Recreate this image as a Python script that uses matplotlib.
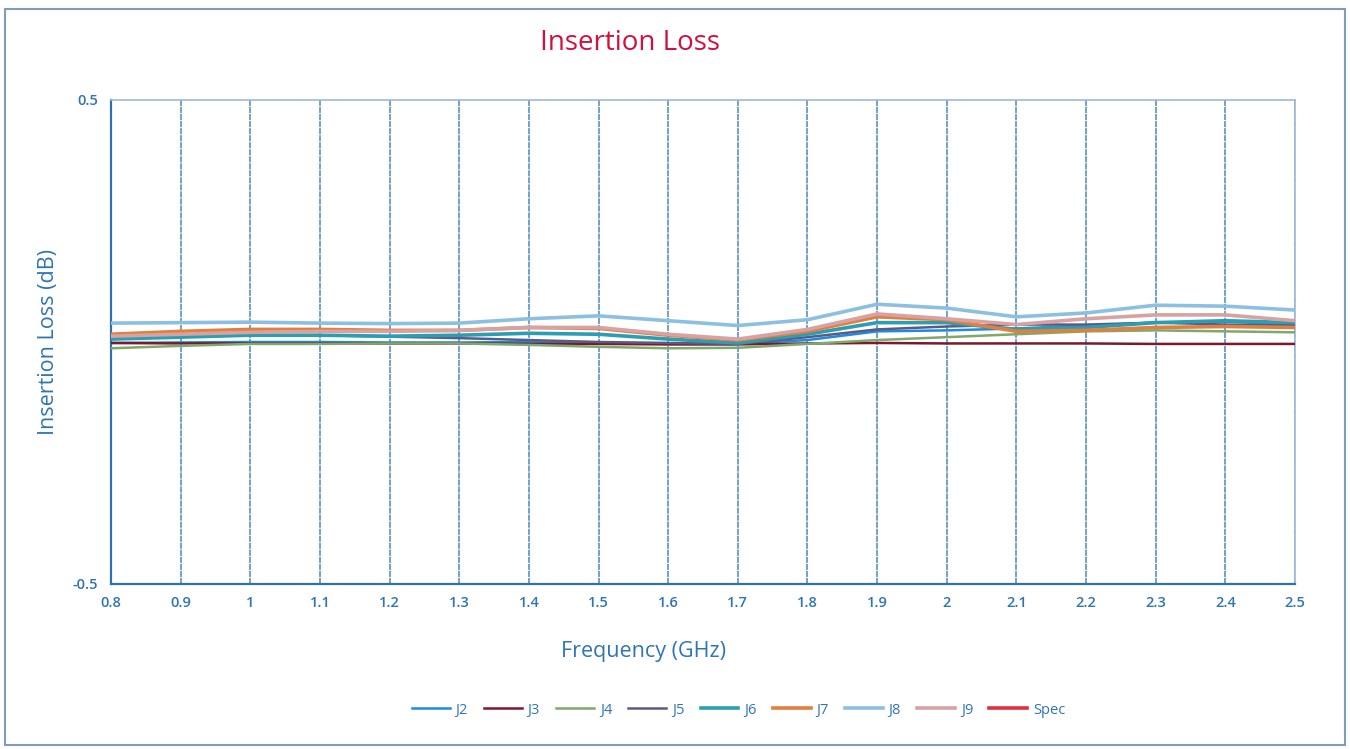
import numpy as np
import matplotlib.pyplot as plt
from matplotlib.patches import Rectangle

# frequency points (GHz) and insertion loss per port (dB)
freq = [0.8, 0.9, 1.0, 1.1, 1.2, 1.3, 1.4, 1.5, 1.6, 1.7,
        1.8, 1.9, 2.0, 2.1, 2.2, 2.3, 2.4, 2.5]

J2 = [-0.002, -0.001, 0.000, 0.000, -0.001, -0.001, 0.000, -0.002, -0.004, -0.004,
      0.004, 0.022, 0.024, 0.028, 0.034, 0.040, 0.042, 0.036]
J3 = [-0.002, -0.003, -0.003, -0.003, -0.003, -0.003, -0.004, -0.004, -0.005, -0.005,
      -0.003, -0.002, -0.003, -0.003, -0.003, -0.004, -0.004, -0.004]
J4 = [-0.013, -0.008, -0.004, -0.004, -0.003, -0.003, -0.006, -0.010, -0.013, -0.012,
      -0.004, 0.004, 0.010, 0.016, 0.022, 0.024, 0.022, 0.020]
J5 = [0.010, 0.011, 0.014, 0.014, 0.011, 0.008, 0.004, 0.000, -0.002, -0.004,
      0.010, 0.026, 0.032, 0.036, 0.036, 0.040, 0.036, 0.034]
J6 = [0.006, 0.010, 0.014, 0.014, 0.012, 0.014, 0.018, 0.016, 0.006, -0.002,
      0.016, 0.040, 0.040, 0.026, 0.030, 0.040, 0.044, 0.040]
J7 = [0.016, 0.022, 0.026, 0.026, 0.024, 0.024, 0.030, 0.028, 0.014, 0.004,
      0.022, 0.052, 0.046, 0.022, 0.024, 0.030, 0.032, 0.030]
J8 = [0.039, 0.040, 0.041, 0.039, 0.038, 0.039, 0.048, 0.054, 0.044, 0.034,
      0.046, 0.078, 0.070, 0.052, 0.060, 0.076, 0.074, 0.066]
J9 = [0.012, 0.016, 0.020, 0.022, 0.022, 0.024, 0.030, 0.030, 0.016, 0.006,
      0.026, 0.058, 0.048, 0.036, 0.048, 0.056, 0.056, 0.044]
Spec = [-1.0] * len(freq)  # spec limit sits below the shown range

names = ["J2", "J3", "J4", "J5", "J6", "J7", "J8", "J9", "Spec"]
series = [J2, J3, J4, J5, J6, J7, J8, J9, Spec]
colors = ["#1c8ce0", "#7a1a2c", "#7fa86c", "#5c5a82", "#2a9fb2",
          "#e07f3e", "#8cc0e2", "#d9a2a2", "#e2313c"]
widths = [1.8, 1.8, 1.8, 1.8, 2.6, 2.6, 2.6, 2.6, 2.6]

blue = "#2e75b6"
plt.rcParams['font.family'] = ['Open Sans', 'DejaVu Sans']

fig = plt.figure(figsize=(13.5, 7.49), dpi=100)
fig.patches.append(Rectangle((0.004, 0.006), 0.992, 0.982, transform=fig.transFigure,
                             fill=False, edgecolor="#7f9cb8", linewidth=1.5))
ax = fig.add_axes([0.0822, 0.2203, 0.8771, 0.6462])

order = [0, 1, 2, 3, 4, 5, 8, 7, 6]
for i in order:
    ax.plot(freq, series[i], color=colors[i], lw=widths[i], label=names[i], zorder=3)

ax.set_xlim(0.8, 2.5)
ax.set_ylim(-0.5, 0.5)
xt = np.round(np.arange(0.8, 2.51, 0.1), 1)
ax.set_xticks(xt)
ax.set_xticklabels([("%g" % t) for t in xt], color=blue, fontsize=10.5, fontweight='semibold')
ax.set_yticks([-0.5, 0.5])
ax.set_yticklabels(["-0.5", "0.5"], color=blue, fontsize=10.5, fontweight='semibold')
ax.tick_params(length=0, pad=9)
ax.grid(axis='x', color="#4f88b8", lw=1.1, linestyle=(0, (4, 0.6)))
ax.grid(axis='y', visible=False)

for s in ["left", "bottom"]:
    ax.spines[s].set_color("#2f70b0")
    ax.spines[s].set_linewidth(1.6)
for s in ["top", "right"]:
    ax.spines[s].set_color("#9cbad6")
    ax.spines[s].set_linewidth(1.2)

fig.text(0.467, 0.942, "Insertion Loss", color="#d2103c", fontsize=20, ha='center', va='center')
fig.text(0.477, 0.130, "Frequency (GHz)", color=blue, fontsize=15.5, ha='center', va='center')
ax.set_ylabel("Insertion Loss (dB)", color=blue, fontsize=15.5, labelpad=10)

handles, labels = ax.get_legend_handles_labels()
lk = {l: h for h, l in zip(handles, labels)}
leg = fig.legend([lk[n] for n in names], names, loc='center', bbox_to_anchor=(0.547, 0.052),
                 ncol=9, frameon=False, fontsize=10.5, handlelength=2.6, columnspacing=1.1,
                 handletextpad=0.4)
for t in leg.get_texts():
    t.set_color(blue)

fig.savefig("out.png", dpi=100)
